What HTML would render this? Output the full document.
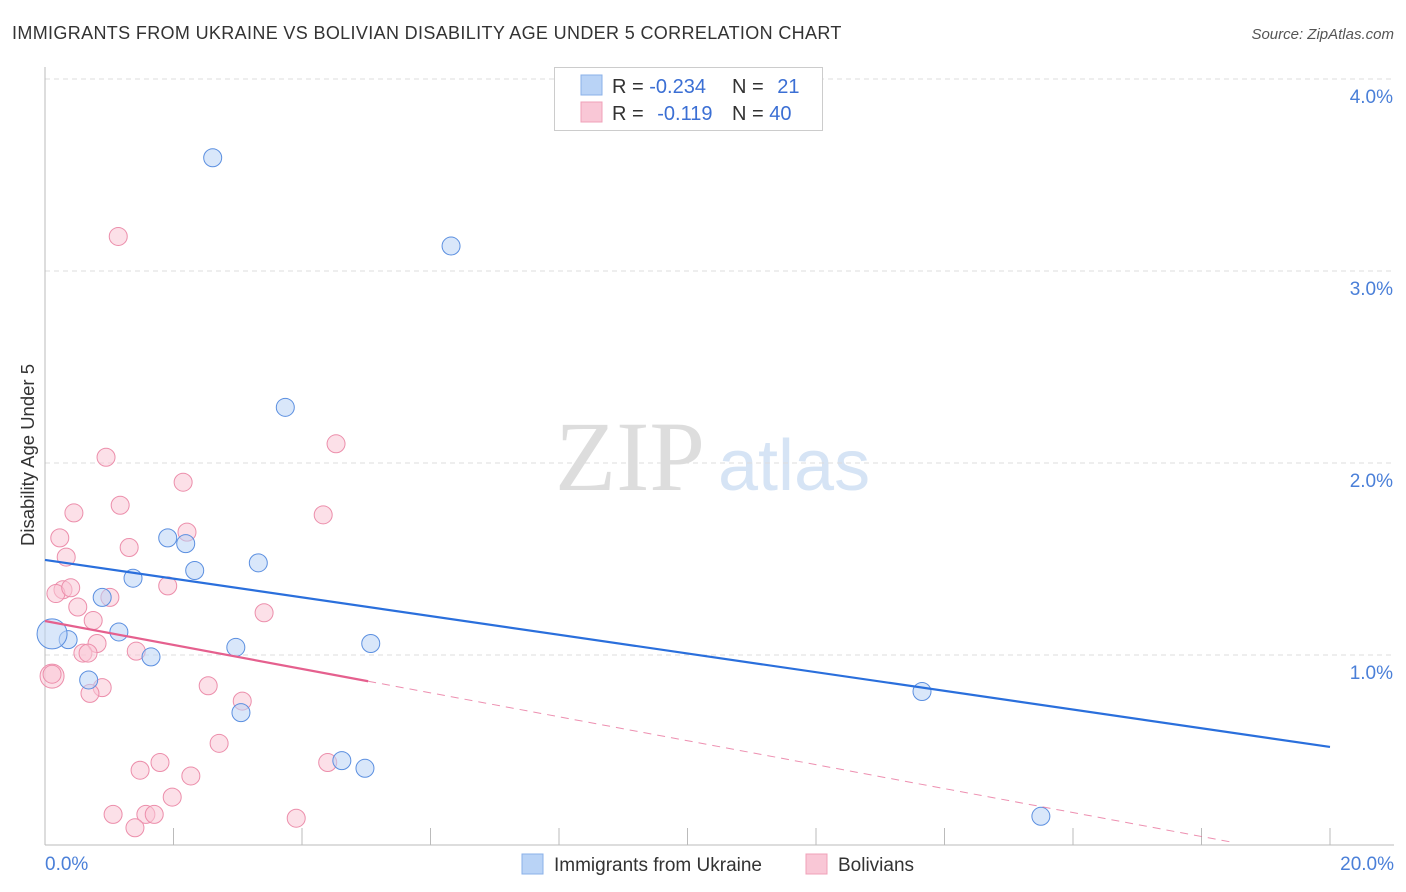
<!DOCTYPE html>
<html><head><meta charset="utf-8"><style>
body{margin:0;background:#fff;font-family:"Liberation Sans",sans-serif;}
svg{display:block}
</style></head><body>
<svg id="chart" width="1406" height="892">
<text x="12" y="39" font-size="18" fill="#333" letter-spacing="0.35">IMMIGRANTS FROM UKRAINE VS BOLIVIAN DISABILITY AGE UNDER 5 CORRELATION CHART</text>
<text x="1394" y="39" font-size="15" fill="#555" font-style="italic" text-anchor="end">Source: ZipAtlas.com</text>
<text transform="translate(34,455) rotate(-90)" font-size="18.5" fill="#333" text-anchor="middle">Disability Age Under 5</text>
<g><text x="555" y="490" font-family="Liberation Serif" font-size="100" fill="#ddd">ZIP</text><text x="718" y="490" font-size="72" fill="#d6e4f5">atlas</text></g>
<g id="grid"></g><g id="axes"></g><g id="pts"></g><g id="lines"></g>
<g>
<rect x="554.5" y="67.5" width="268" height="63" fill="#fff" stroke="#ccc"/>
<rect x="581" y="75" width="21" height="20" fill="#b9d3f6" stroke="#8ab0e8"/>
<rect x="581" y="102" width="21" height="20" fill="#f9c7d6" stroke="#f0a0b8"/>
<text x="612" y="93" font-size="20" fill="#333">R = <tspan fill="#3b6fd4">-0.234</tspan></text>
<text x="732" y="93" font-size="20" fill="#333">N = <tspan fill="#3b6fd4" dx="8">21</tspan></text>
<text x="612" y="120" font-size="20" fill="#333">R = <tspan fill="#3b6fd4" dx="8">-0.119</tspan></text>
<text x="732" y="120" font-size="20" fill="#333">N = <tspan fill="#3b6fd4">40</tspan></text>
</g>
<g>
<rect x="522" y="854" width="21" height="20" fill="#b9d3f6" stroke="#8ab0e8"/>
<text x="554" y="871" font-size="19" fill="#333">Immigrants from Ukraine</text>
<rect x="806" y="854" width="21" height="20" fill="#f9c7d6" stroke="#f0a0b8"/>
<text x="838" y="871" font-size="19" fill="#333">Bolivians</text>
</g>
</svg>
<script>
const xTicks=[0,2,4,6,8,10,12,14,16,18,20];
const yTicks=[1,2,3,4];
const blueX=[2.61,6.32,3.74,1.91,2.19,2.33,3.32,1.37,0.89,1.15,0.36,0.11,1.65,2.97,5.07,0.68,3.05,13.65,4.62,4.98,15.5];
const blueY=[3.59,3.13,2.29,1.61,1.58,1.44,1.48,1.40,1.30,1.12,1.08,1.11,0.99,1.04,1.06,0.87,0.70,0.81,0.45,0.41,0.16];
const pinkX=[1.14,4.53,0.95,2.15,1.17,0.45,4.33,2.21,0.23,1.31,0.33,1.91,0.28,0.17,0.40,1.01,0.51,3.41,0.75,0.81,1.42,0.59,0.67,0.11,0.11,2.54,0.89,0.70,3.07,2.71,1.48,1.79,2.27,1.98,1.06,1.57,1.70,1.40,3.91,4.40];
const pinkY=[3.18,2.10,2.03,1.90,1.78,1.74,1.73,1.64,1.61,1.56,1.51,1.36,1.34,1.32,1.35,1.30,1.25,1.22,1.18,1.06,1.02,1.01,1.01,0.89,0.90,0.84,0.83,0.80,0.76,0.54,0.40,0.44,0.37,0.26,0.17,0.17,0.17,0.10,0.15,0.44];
const blueTrend=[1.495,0.521];
const pinkTrend=[1.177,-0.07];
const pinkSolidEnd=5.03;
const NS='http://www.w3.org/2000/svg';
const X=v=>45+v/20*1285, Y=v=>847-v*192;
function mk(t,a,p){const e=document.createElementNS(NS,t);for(const k in a)e.setAttribute(k,a[k]);p.appendChild(e);return e;}
const grid=document.getElementById('grid'),axes=document.getElementById('axes'),pts=document.getElementById('pts'),lines=document.getElementById('lines');
yTicks.forEach(t=>{
const g=mk('line',{x1:45,x2:1394,y1:Y(t),y2:Y(t),stroke:'#ddd','stroke-dasharray':'5,4'},grid);


const l=mk('text',{x:1393,y:Y(t)+24,'font-size':19,fill:'#4a7fd8','text-anchor':'end'},axes);l.textContent=t.toFixed(1)+'%';


});
mk('line',{x1:45,x2:45,y1:67,y2:845,stroke:'#bbb'},axes);
mk('line',{x1:45,x2:1394,y1:845,y2:845,stroke:'#bbb'},axes);
xTicks.forEach(t=>{
const tk=mk('line',{x1:X(t),x2:X(t),y1:828,y2:845,stroke:'#bbb'},axes);


});
[[0,'0.0%','start',45],[20,'20.0%','end',1394]].forEach(a=>{
const l=mk('text',{x:a[3],y:870,'font-size':19,fill:'#4a7fd8','text-anchor':a[2]},axes);l.textContent=a[1];


});
function dot(x,y,c,s,r,name){const e=mk('circle',{cx:X(x),cy:Y(y),r:r,fill:c,'fill-opacity':0.55,stroke:s,'stroke-width':1},pts);

}
pinkX.forEach((x,i)=>dot(x,pinkY[i],'#f9c7d6','#ec8eab',i==23?12:9,'bolivians-point'));
blueX.forEach((x,i)=>dot(x,blueY[i],'#b9d3f6','#5b8fe0',i==11?15:9,'ukraine-point'));
const bl=mk('line',{x1:X(0),y1:Y(blueTrend[0]),x2:X(20),y2:Y(blueTrend[1]),stroke:'#2a6fdc','stroke-width':2.2},lines);


const pf=x=>pinkTrend[0]+(pinkTrend[1]-pinkTrend[0])*x/20;
const pl=mk('line',{x1:X(0),y1:Y(pf(0)),x2:X(pinkSolidEnd),y2:Y(pf(pinkSolidEnd)),stroke:'#e5608e','stroke-width':2.2},lines);


const pd=mk('line',{x1:X(pinkSolidEnd),y1:Y(pf(pinkSolidEnd)),x2:X(18.5),y2:Y(pf(18.5)),stroke:'#e5608e','stroke-width':1,'stroke-dasharray':'8,6','stroke-opacity':0.7},lines);


</script>
</body></html>
